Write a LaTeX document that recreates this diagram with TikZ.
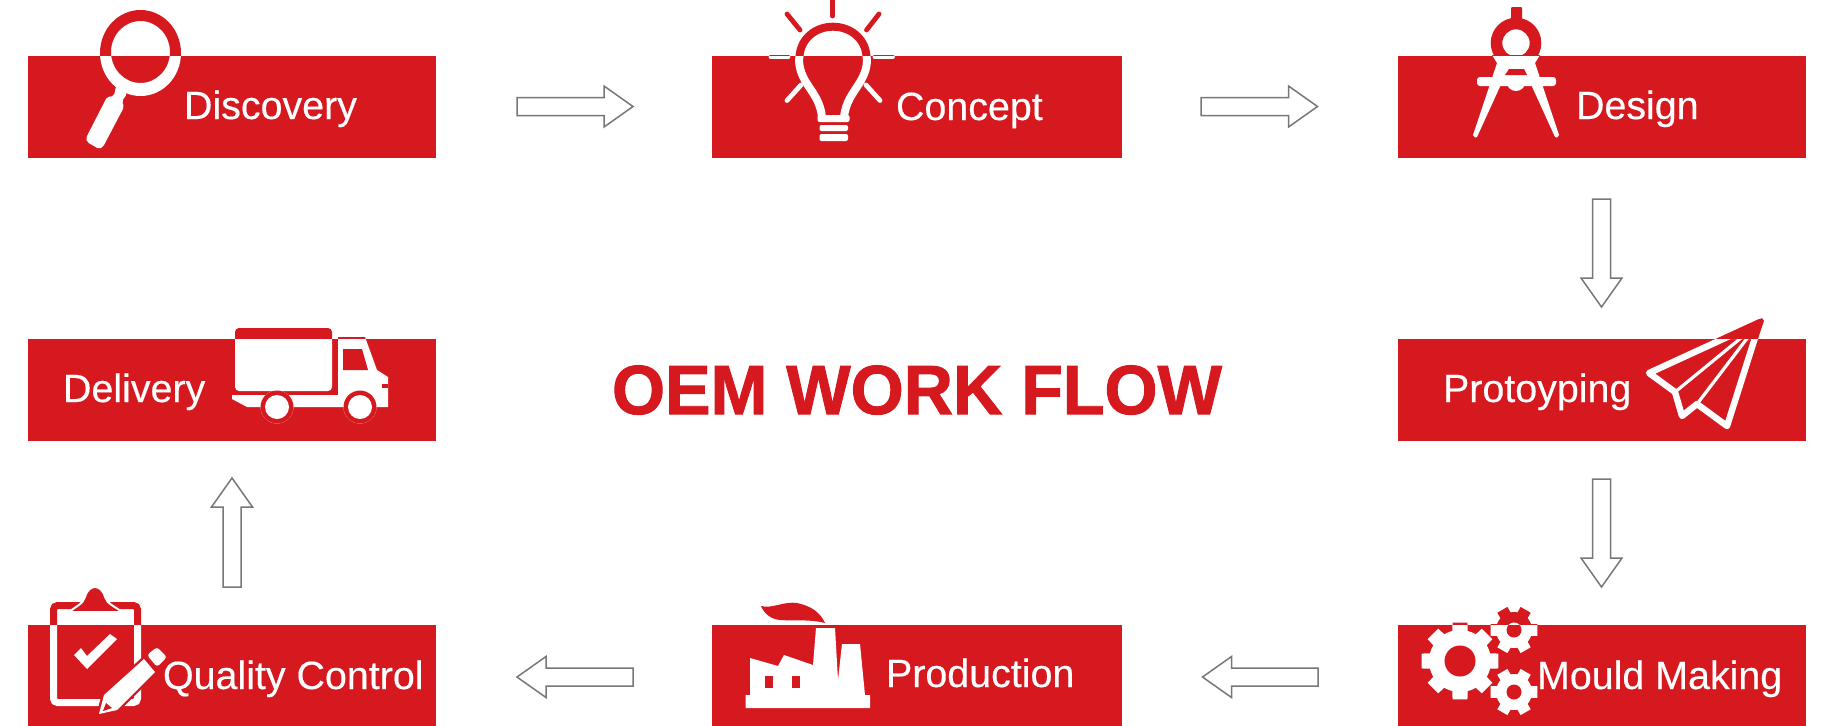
\documentclass[tikz,border=0pt]{standalone}
\usepackage{fontspec}
\setmainfont{Liberation Sans}
\newfontfamily\labelfont[FakeBold=0.35]{Liberation Sans}
\newfontfamily\titlefont[FakeBold=1.4,FakeStretch=0.98]{Liberation Sans Bold}
\usetikzlibrary{calc}
\definecolor{brand}{HTML}{D5191F}
\definecolor{arrowgray}{HTML}{777777}
\tikzset{
  x=0.5pt,y=-0.5pt,
  redbox/.style={fill=brand,draw=none,inner sep=0pt,outer sep=0pt,rectangle},
  boxlabel/.style={text=white,font=\labelfont\fontsize{19.7pt}{22pt}\selectfont,anchor=base west,inner sep=0pt,outer sep=0pt},
  titlelabel/.style={text=brand,font=\titlefont\fontsize{34.8pt}{38pt}\selectfont,anchor=base west,inner sep=0pt,outer sep=0pt},
  flowarrow/.style={draw=arrowgray,fill=white,line width=0.75pt,line join=miter},
}
\newcommand\blockarrow[2]{%
  \coordinate (bh) at ($(#2)!14.5pt!(#1)$);
  \draw[flowarrow] ($(#1)!4.5pt!90:(#2)$) -- ($(bh)!4.5pt!90:(#2)$) -- ($(bh)!10.25pt!90:(#2)$)
    -- (#2) -- ($(bh)!10.25pt!-90:(#2)$) -- ($(bh)!4.5pt!-90:(#2)$) -- ($(#1)!4.5pt!-90:(#2)$) -- cycle;
}
\newcommand\twotone[2]{%
  #2{brand}{white}%
  \begin{scope}\clip (#1.north west) rectangle (#1.south east); #2{white}{brand}\end{scope}%
}
% magnifier
\newcommand\iconmag[2]{%
  \fill[#1,even odd rule] (140.5,53) ellipse [x radius=40.5,y radius=43] (140.5,52) ellipse [x radius=29.5,y radius=31];
  \fill[#1,rounded corners=1pt] (116,86) -- (114,96) -- (107,97) -- (86,138) -- (87,142) -- (99,149) -- (103,147) -- (124,107) -- (122,101) -- (127,94) -- cycle;
}
% bulb
\newcommand\iconbulb[2]{%
  \begin{scope}[#1,line cap=round,line width=2.4pt]
    \draw (832.6,1) -- (832.6,16);
    \draw (787,14) -- (800,30);
    \draw (879,14) -- (866.5,30);
    \draw (771,57) -- (788,57);
    \draw (875,57) -- (892.5,57);
    \draw (801,85) -- (787,100.5);
    \draw (866,85) -- (880,100.5);
  \end{scope}
  \draw[#1,line width=4pt] (822,118) .. controls (821,102) and (812,92) .. (806.5,83)
     .. controls (801,74) and (798,65) .. (799.5,56)
     .. controls (801,38) and (816,26.7) .. (833,26.7)
     .. controls (850,26.7) and (865,38) .. (866.5,56)
     .. controls (868,65) and (865,74) .. (859.5,83)
     .. controls (854,92) and (845,102) .. (844,118);
  \fill[#1,rounded corners=1pt] (817.5,115) rectangle (849.5,122);
  \fill[#1,rounded corners=1pt] (819.5,125) rectangle (848,131);
  \fill[#1,rounded corners=1pt] (819.5,134) rectangle (848,141);
}
% compass
\newcommand\iconcompass[2]{%
  \fill[#1,rounded corners=0.5pt] (1511,7) rectangle (1522,24);
  \fill[#1,even odd rule] (1516,43) circle [radius=25.3] (1516,43) circle [radius=13.7];
  \fill[#1] (1497,63) -- (1473,135) -- (1475,137.5) -- (1477,137) -- (1503,80) -- (1529,80) -- (1555,137) -- (1557,137.5) -- (1559,135) -- (1535,63) -- (1540,55) -- (1492,55) -- cycle;
  \fill[#1,rounded corners=1.5pt] (1477,77) rectangle (1556,86);
  \fill[#1] (1516,81.5) circle [radius=9.5];
  \fill[#2] (1509,69) -- (1524,69) -- (1527,75) -- (1505,75) -- cycle;
}
% paper plane
\newcommand\iconplane[2]{%
  \draw[#1,line width=3.2pt,line join=round] (1760,322) -- (1649,373) -- (1675,392) -- (1682,416) -- (1697,404) -- (1727,426) -- cycle;
  \draw[#1,line width=1.6pt] (1675,392) -- (1758,324);
  \draw[#1,line width=1.6pt] (1697,404) -- (1758,324);
  \fill[#1] (1720,339) -- (1762,318) -- (1764,321) -- (1757,339) -- cycle;
}
% gears
\newcommand\gear[7]{% cx cy root outer halfroot halfouter count
  \begin{scope}[shift={(#1,#2)}]
    \fill[\gearcol] (0,0) circle [radius=#3];
    \foreach \a in {1,...,#7} {
      \pgfmathsetmacro\ang{\gearstart+(\a-1)*360/#7}
      \fill[\gearcol] (\ang-#5:#3-1) -- (\ang-#6:#4) -- (\ang+#6:#4) -- (\ang+#5:#3-1) -- cycle;
    }
    \fill[\gearhole] (0,0) circle [radius=\gearholer];
  \end{scope}
}
\newcommand\icongears[2]{%
  \def\gearcol{#1}\def\gearhole{#2}%
  \def\gearstart{90}\def\gearholer{15.5}\gear{1460}{661}{31}{39}{15}{11}{8}%
  \def\gearstart{0}\def\gearholer{7.5}\gear{1514}{630}{18}{24}{20}{14}{6}%
  \gear{1514}{692}{18}{24}{20}{14}{6}%
}
% clipboard
\newcommand\iconclip[2]{%
  \draw[#1,line width=3.5pt,rounded corners=2pt] (53.5,605.5) rectangle (137.5,702.5);
  \draw[white,fill=brand,line width=1pt,line join=round] (69,612) .. controls (75,607) and (83,604) .. (85,597)
     .. controls (87,590) and (91,587) .. (95,587) .. controls (99,587) and (103,590) .. (105,597)
     .. controls (107,604) and (116,607) .. (122,612) -- cycle;
  \fill[#1] (74,655) -- (87,669) -- (117,639) -- (110,634) -- (87,656) -- (81,648) -- cycle;
}
\newcommand\iconpencil[2]{%
  \path[fill=white,preaction={draw=brand,line width=2.4pt,line join=round}] (104,695) -- (144,659) -- (155,672) -- (117,710) -- (99,714) -- cycle;
  \fill[brand] (106,703) -- (112,708) -- (103,711) -- cycle;
  \fill[white,rounded corners=1.5pt] (147,655) -- (157,647) -- (167,657) -- (157,667) -- cycle;
}
% factory
\newcommand\iconfactory[2]{%
  \fill[brand] (761,606) .. controls (772,609) and (784,601) .. (797,603) .. controls (811,606) and (820,612) .. (825,623)
     .. controls (810,619) and (795,621) .. (780,620) .. controls (770,619) and (764,613) .. (761,606) -- cycle;
  \fill[#1] (745.7,708) -- (745.7,695) -- (750,695) -- (750,658) -- (778,666) -- (784,655) -- (813,665) -- (816,628) -- (835,628) -- (838,680) -- (842,644) -- (860,644) -- (865,695) -- (870,695) -- (870,708) -- cycle;
  \fill[#2] (765,676) rectangle (773,688);
  \fill[#2] (792,676) rectangle (800,688);
}
% truck
\newcommand\icontruck[2]{%
  \fill[#1,rounded corners=2pt] (235,328) rectangle (332,391);
  \fill[#1] (232,395) -- (338,395) -- (338,337) -- (365,337) -- (377,370) -- (388,377) -- (388,407) -- (247,407) -- (232,399) -- cycle;
  \fill[#2] (343,349) -- (362,349) -- (368,370) -- (343,370) -- cycle;
  \fill[#2] (382,384) rectangle (388,388);
  \fill[#2] (277,407) circle [radius=16.5];
  \fill[#2] (360,407) circle [radius=16.5];
  \fill[#1] (277,407) circle [radius=12];
  \fill[#1] (360,407) circle [radius=12];
}
\begin{document}
\begin{tikzpicture}
\useasboundingbox (0,0) rectangle (1825,725);
% boxes
\node[redbox,minimum width=204pt,minimum height=51pt] (discovery) at (232,107) {};
\node[redbox,minimum width=205pt,minimum height=51pt] (concept) at (917,107) {};
\node[redbox,minimum width=204pt,minimum height=51pt] (design) at (1602,107) {};
\node[redbox,minimum width=204pt,minimum height=51pt] (proto) at (1602,390) {};
\node[redbox,minimum width=204pt,minimum height=51pt] (mould) at (1602,676) {};
\node[redbox,minimum width=205pt,minimum height=51pt] (production) at (917,676) {};
\node[redbox,minimum width=204pt,minimum height=51pt] (quality) at (232,676) {};
\node[redbox,minimum width=204pt,minimum height=51pt] (delivery) at (232,390) {};
% icons
\twotone{discovery}{\iconmag}
\twotone{concept}{\iconbulb}
\twotone{design}{\iconcompass}
\twotone{proto}{\iconplane}
\twotone{mould}{\icongears}
\twotone{quality}{\iconclip}
\iconpencil{white}{brand}
\twotone{production}{\iconfactory}
\twotone{delivery}{\icontruck}
% labels
\node[boxlabel] (tdisc) at (184,119) {Discovery};
\node[boxlabel] (tconc) at (896,120) {Concept};
\node[boxlabel] (tdes) at (1576,119) {Design};
\node[boxlabel] (tpro) at (1443,402) {Protoyping};
\node[boxlabel] (tmou) at (1537,689) {Mould Making};
\node[boxlabel] (tpdn) at (886,687) {Production};
\node[boxlabel] (tqua) at (163,689) {Quality Control};
\node[boxlabel] (tdel) at (63,402) {Delivery};
\node[titlelabel] (title) at (612,414) {OEM WORK FLOW};
% arrows
\coordinate (a1s) at (517,106.5); \coordinate (a1e) at (633,106.5);
\coordinate (a2s) at (1201,106.5); \coordinate (a2e) at (1317.5,106.5);
\coordinate (a3s) at (1601.5,199); \coordinate (a3e) at (1601.5,307);
\coordinate (a4s) at (1601.5,479); \coordinate (a4e) at (1601.5,587);
\coordinate (a5s) at (1318,677); \coordinate (a5e) at (1202.5,677);
\coordinate (a6s) at (633,677); \coordinate (a6e) at (517,677);
\coordinate (a7s) at (232,587); \coordinate (a7e) at (232,478);
\blockarrow{a1s}{a1e}
\blockarrow{a2s}{a2e}
\blockarrow{a3s}{a3e}
\blockarrow{a4s}{a4e}
\blockarrow{a5s}{a5e}
\blockarrow{a6s}{a6e}
\blockarrow{a7s}{a7e}
\end{tikzpicture}
\end{document}
